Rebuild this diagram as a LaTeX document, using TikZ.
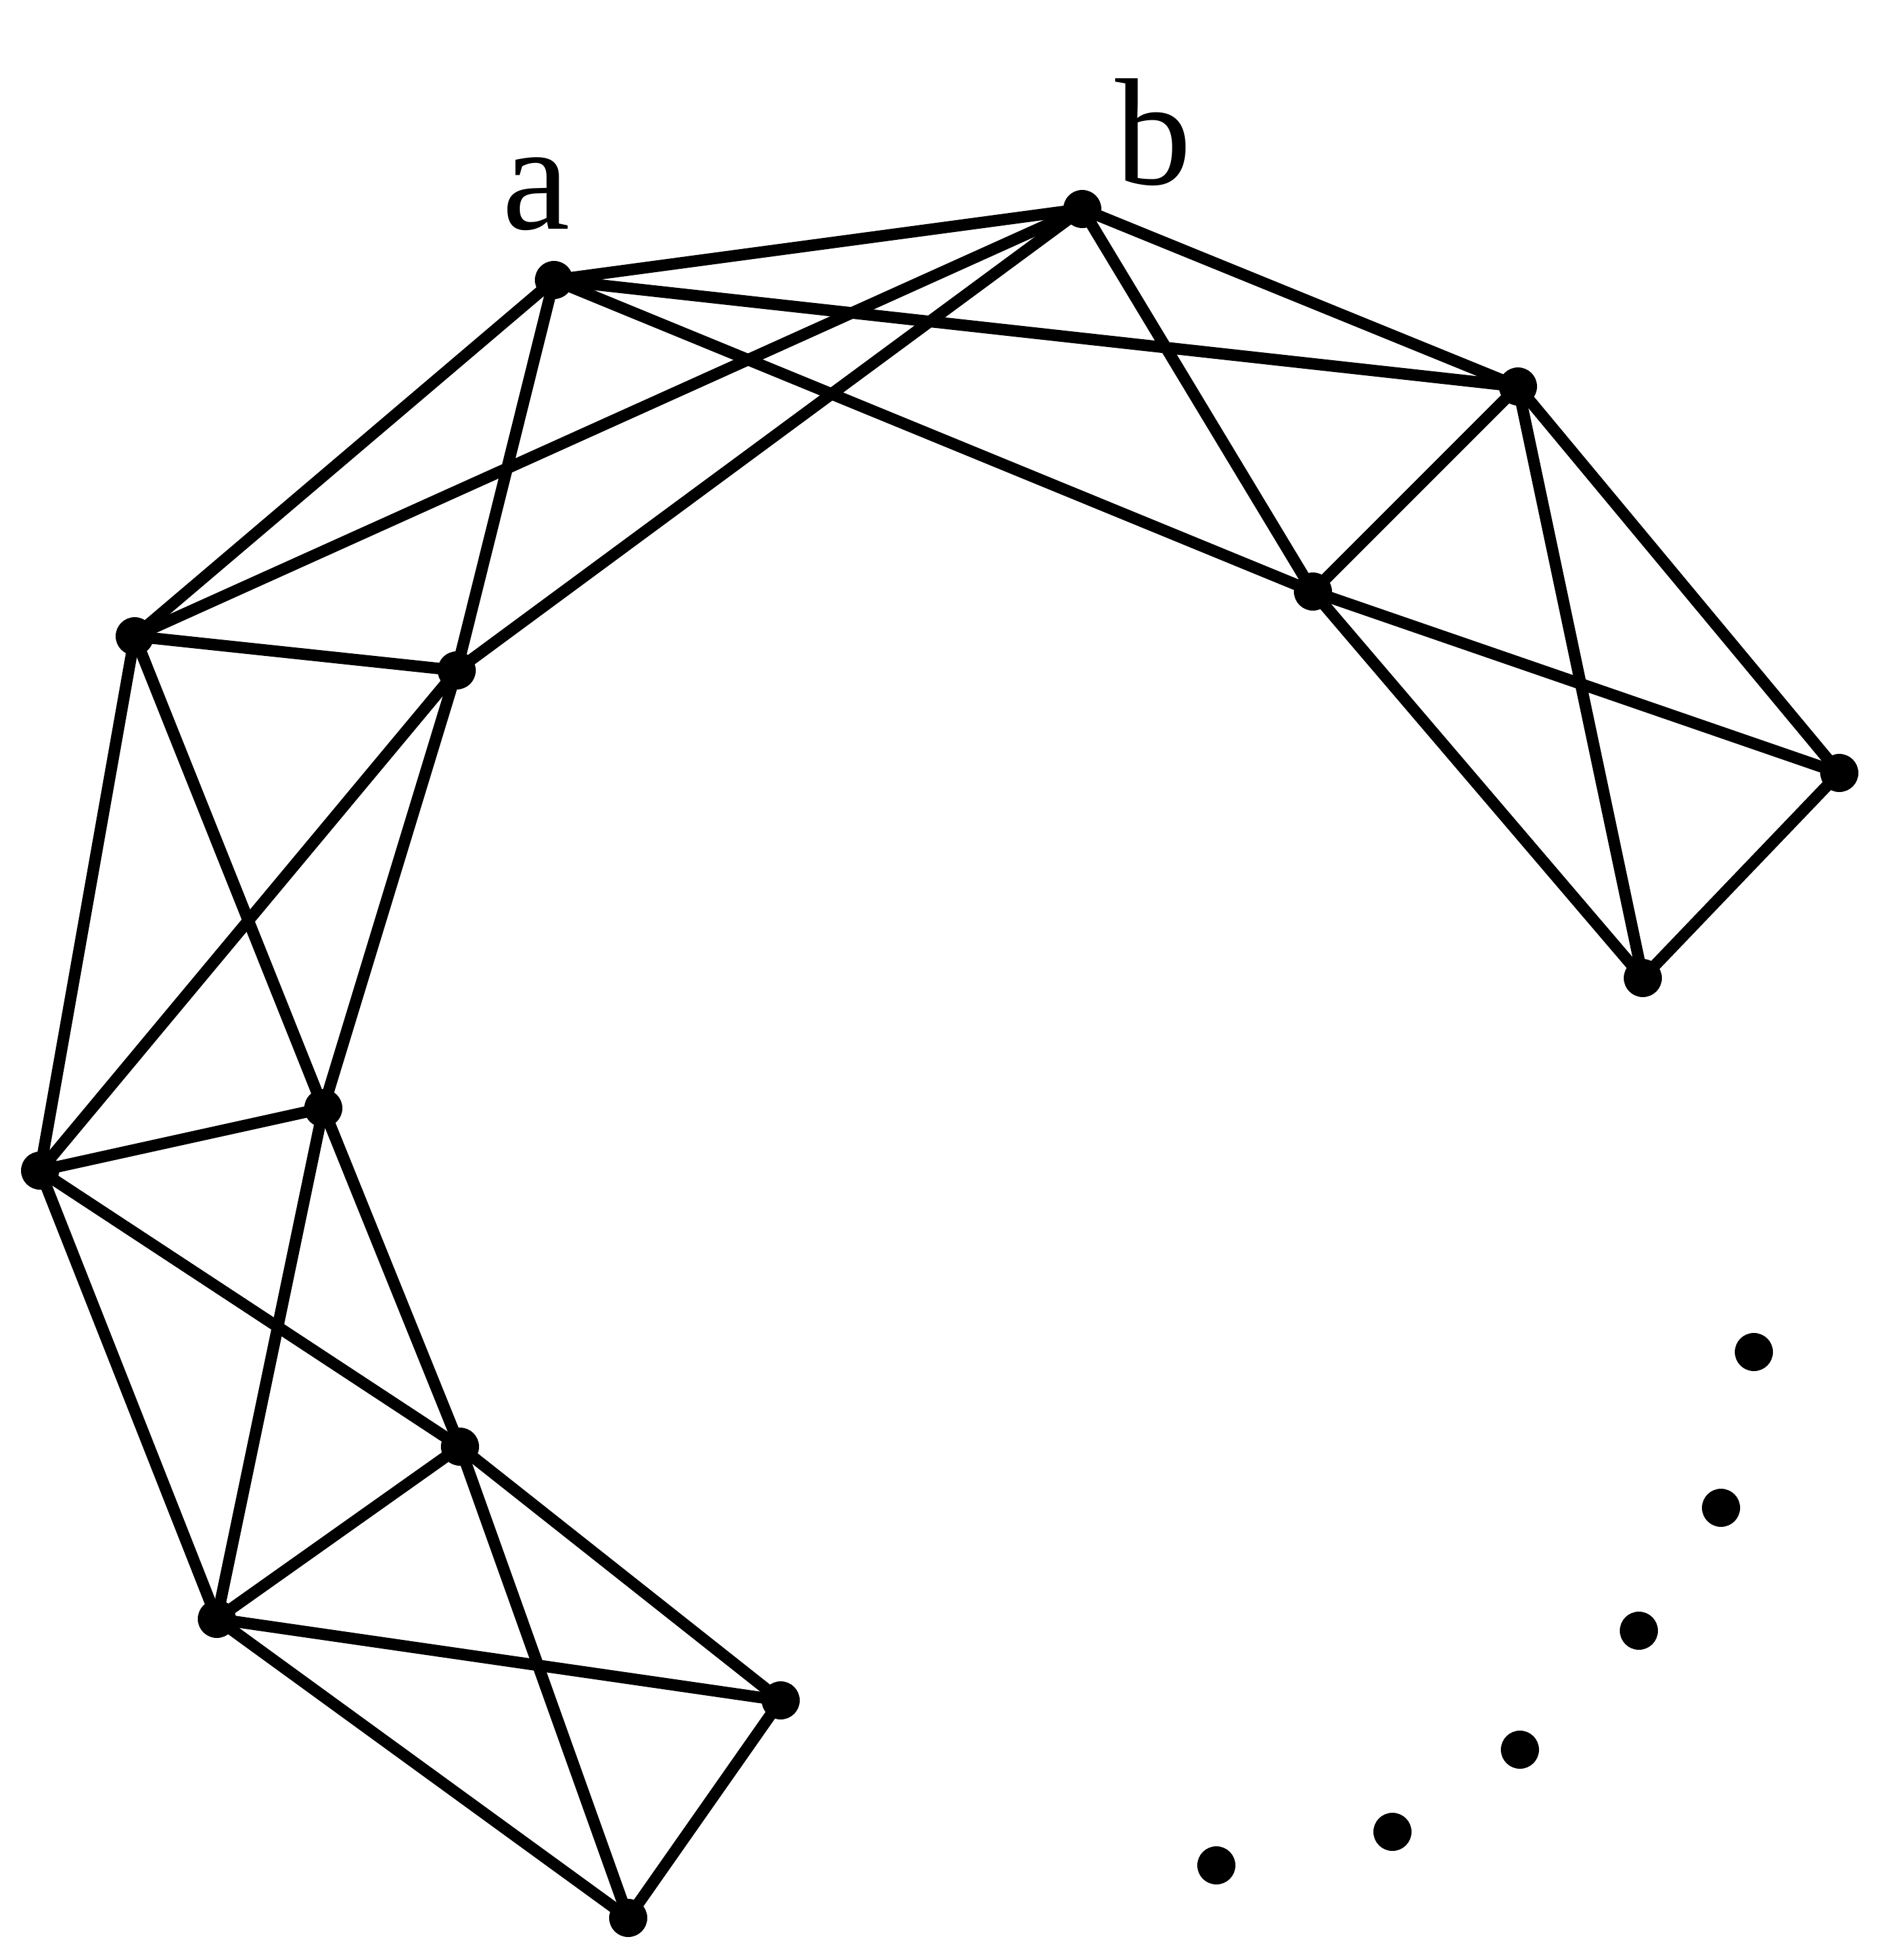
\documentclass[tikz,border=0pt]{standalone}
\usepackage{fontspec}
\setmainfont{Liberation Serif}
\tikzset{%
  % Specifications for style of nodes:
        vertex/.style = {circle, fill=black, inner sep=0pt, outer sep=0pt, minimum size=5.8mm},
         tag/.style = {inner sep=0pt, anchor=base, font=\fontsize{66}{70}\selectfont},
        edgeline/.style = {line width=5pt, black},
}

\begin{document}
\begin{tikzpicture}
  \useasboundingbox (0,0) rectangle (28.63,-29.82);
  % Specification of nodes (position, etc.)

  \node (a)		[vertex] at (8.43,-4.26) {};
  \node (b)		[vertex] at (16.47,-3.18) {};
  \node (c)		[vertex] at (23.10,-5.88) {};
  \node (d)		[vertex] at (19.98,-9.00) {};
  \node (e)		[vertex] at (27.99,-11.76) {};
  \node (f)		[vertex] at (25.00,-14.88) {};
  \node (g)		[vertex] at (2.05,-9.68) {};
  \node (h)		[vertex] at (6.95,-10.20) {};
  \node (i)		[vertex] at (4.92,-16.86) {};
  \node (j)		[vertex] at (0.61,-17.81) {};
  \node (k)		[vertex] at (7.00,-22.01) {};
  \node (l)		[vertex] at (3.30,-24.63) {};
  \node (m)		[vertex] at (11.88,-25.87) {};
  \node (n)		[vertex] at (9.56,-29.18) {};

  \node (taga)	[tag] at (8.16,-3.48) {a};
  \node (tagb)	[tag] at (17.55,-2.81) {b};

  % the dotted continuation
  \node (p1)	[vertex] at (26.69,-20.57) {};
  \node (p2)	[vertex] at (26.19,-22.94) {};
  \node (p3)	[vertex] at (24.94,-24.81) {};
  \node (p4)	[vertex] at (23.13,-26.62) {};
  \node (p5)	[vertex] at (21.19,-27.87) {};
  \node (p6)	[vertex] at (18.51,-28.38) {};

  \draw[edgeline]		(a.center) -- (b.center);
  \draw[edgeline]		(a.center) -- (c.center);
  \draw[edgeline]		(a.center) -- (d.center);
  \draw[edgeline]		(a.center) -- (g.center);
  \draw[edgeline]		(a.center) -- (h.center);
  \draw[edgeline]		(b.center) -- (c.center);
  \draw[edgeline]		(b.center) -- (d.center);
  \draw[edgeline]		(b.center) -- (g.center);
  \draw[edgeline]		(b.center) -- (h.center);
  \draw[edgeline]		(c.center) -- (d.center);
  \draw[edgeline]		(c.center) -- (e.center);
  \draw[edgeline]		(c.center) -- (f.center);
  \draw[edgeline]		(d.center) -- (e.center);
  \draw[edgeline]		(d.center) -- (f.center);
  \draw[edgeline]		(e.center) -- (f.center);
  \draw[edgeline]		(g.center) -- (h.center);
  \draw[edgeline]		(g.center) -- (i.center);
  \draw[edgeline]		(g.center) -- (j.center);
  \draw[edgeline]		(h.center) -- (i.center);
  \draw[edgeline]		(h.center) -- (j.center);
  \draw[edgeline]		(i.center) -- (j.center);
  \draw[edgeline]		(i.center) -- (k.center);
  \draw[edgeline]		(i.center) -- (l.center);
  \draw[edgeline]		(j.center) -- (k.center);
  \draw[edgeline]		(j.center) -- (l.center);
  \draw[edgeline]		(k.center) -- (l.center);
  \draw[edgeline]		(k.center) -- (m.center);
  \draw[edgeline]		(k.center) -- (n.center);
  \draw[edgeline]		(l.center) -- (m.center);
  \draw[edgeline]		(l.center) -- (n.center);
  \draw[edgeline]		(m.center) -- (n.center);
\end{tikzpicture}
\end{document}
